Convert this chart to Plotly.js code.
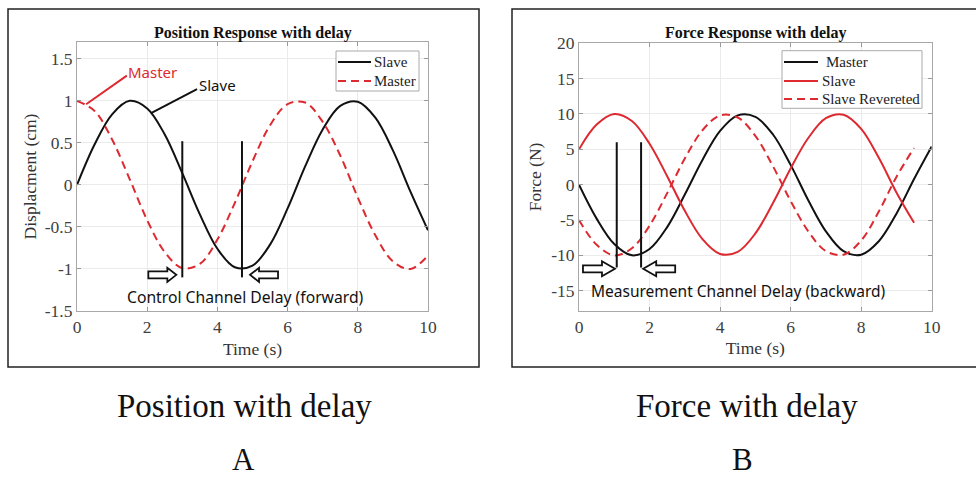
<!DOCTYPE html>
<html>
<head>
<meta charset="utf-8">
<script src="https://cdn.plot.ly/plotly-3.0.1.min.js"></script>
<style>html,body{margin:0;padding:0;background:#fff;}#chart{width:976px;height:478px;}</style>
</head>
<body>
<div id="chart"></div>
<script>
// ---- data ----
const time = [0,0.5,1,1.5,2,2.5,3,3.5,4,4.5,5,5.5,6,6.5,7,7.5,8,8.5,9,9.5,10];
const posSlave  = [0,0.48,0.84,1.00,0.91,0.60,0.14,-0.35,-0.76,-0.98,-0.96,-0.71,-0.28,0.22,0.66,0.94,0.99,0.80,0.41,-0.08,-0.54];
const posMaster = [1.00,0.88,0.54,0.07,-0.42,-0.80,-0.99,-0.94,-0.65,-0.21,0.28,0.71,0.96,0.98,0.75,0.35,-0.15,-0.60,-0.91,-1.00,-0.84];
const timeShort = [0,0.5,1,1.5,2,2.5,3,3.5,4,4.5,5,5.5,6,6.5,7,7.5,8,8.5,9,9.5];
const forceMaster = [0,-4.8,-8.4,-10.0,-9.1,-6.0,-1.4,3.5,7.6,9.8,9.6,7.1,2.8,-2.2,-6.6,-9.4,-9.9,-8.0,-4.1,0.8,5.4];
const forceSlave  = [5.0,8.5,10.0,9.0,5.8,1.2,-3.7,-7.7,-9.8,-9.5,-6.9,-2.6,2.3,6.6,9.4,9.9,7.9,3.8,-1.1,-5.4];
const forceSlaveRev = [-5.0,-8.5,-10.0,-9.0,-5.8,-1.2,3.7,7.7,9.8,9.5,6.9,2.6,-2.3,-6.6,-9.4,-9.9,-7.9,-3.8,1.1,5.2];
const xTicks = [0,2,4,6,8,10];
const xTickText = ['0','2','4','6','8','10'];
const posTicks = [-1.5,-1,-0.5,0,0.5,1,1.5];
const posTickText = ['-1.5','-1','-0.5','0','0.5','1','1.5'];
const forceTicks = [-15,-10,-5,0,5,10,15,20];
const forceTickText = ['-15','-10','-5','0','5','10','15','20'];
const delayPos = [3.0, 4.7];      // vertical delay markers (s), position plot
const delayForce = [1.07, 1.76];  // vertical delay markers (s), force plot
const posLegendNames = ['Slave', 'Master'];
const forceLegendNames = ['Master', 'Slave', 'Slave Revereted'];

// ---- styles ----
const RED = '#dd2a30';
const BLACK = '#111';
const SERIF = "'Liberation Serif', 'Times New Roman', serif";
const SANS = "'Noto Sans', 'Open Sans', sans-serif";
const W = 976, H = 478;
const px = v => v / W, py = v => 1 - v / H;

const posStyles = [{color: BLACK, width: 2}, {color: RED, width: 2, dash: '8px,5px'}];
const forceStyles = [{color: BLACK, width: 2}, {color: RED, width: 2}, {color: RED, width: 2, dash: '8px,5px'}];

const traces = [
  {x: time, y: posSlave, name: posLegendNames[0], mode: 'lines', line: Object.assign({shape: 'spline'}, posStyles[0]), xaxis: 'x', yaxis: 'y'},
  {x: time, y: posMaster, name: posLegendNames[1], mode: 'lines', line: Object.assign({shape: 'spline'}, posStyles[1]), xaxis: 'x', yaxis: 'y'},
  {x: time, y: forceMaster, name: forceLegendNames[0], mode: 'lines', line: Object.assign({shape: 'spline'}, forceStyles[0]), xaxis: 'x2', yaxis: 'y2'},
  {x: timeShort, y: forceSlave, name: forceLegendNames[1], mode: 'lines', line: Object.assign({shape: 'spline'}, forceStyles[1]), xaxis: 'x2', yaxis: 'y2'},
  {x: timeShort, y: forceSlaveRev, name: forceLegendNames[2], mode: 'lines', line: Object.assign({shape: 'spline'}, forceStyles[2]), xaxis: 'x2', yaxis: 'y2'}
];

function axisBase(extra) {
  return Object.assign({
    ticks: 'inside', ticklen: 4, tickcolor: '#999', tickwidth: 1,
    showline: true, linecolor: '#a8a8a8', linewidth: 1, mirror: 'ticks',
    showgrid: true, gridcolor: '#ebebeb', gridwidth: 1, zeroline: false,
    tickfont: {family: SERIF, size: 17.5, color: '#404040'},
    fixedrange: true
  }, extra);
}

const shapes = [
  // panel frames
  {type: 'rect', xref: 'paper', yref: 'paper', x0: px(8), x1: px(479), y0: py(367), y1: py(9), line: {color: '#222', width: 1.5}},
  {type: 'rect', xref: 'paper', yref: 'paper', x0: px(512), x1: px(980), y0: py(367), y1: py(9), line: {color: '#222', width: 1.5}},
  // leader lines for labels (position plot)
  {type: 'line', xref: 'x', yref: 'y', x0: 0.26, y0: 0.96, x1: 1.42, y1: 1.30, line: {color: RED, width: 2}},
  {type: 'line', xref: 'x', yref: 'y', x0: 2.11, y0: 0.855, x1: 3.42, y1: 1.14, line: {color: BLACK, width: 2}},
  // delay markers
  {type: 'line', xref: 'x', yref: 'y', x0: delayPos[0], x1: delayPos[0], y0: 0.52, y1: -1.10, line: {color: BLACK, width: 2}},
  {type: 'line', xref: 'x', yref: 'y', x0: delayPos[1], x1: delayPos[1], y0: 0.52, y1: -1.10, line: {color: BLACK, width: 2}},
  {type: 'line', xref: 'x2', yref: 'y2', x0: delayForce[0], x1: delayForce[0], y0: 6, y1: -11.7, line: {color: BLACK, width: 2}},
  {type: 'line', xref: 'x2', yref: 'y2', x0: delayForce[1], x1: delayForce[1], y0: 6, y1: -11.7, line: {color: BLACK, width: 2}},
  // hollow arrows
  {type: 'path', xref: 'x', yref: 'y', xsizemode: 'pixel', ysizemode: 'pixel', xanchor: 2.83, yanchor: -1.07,
    path: 'M-28,-3.5 L-9,-3.5 L-9,-7 L0,0 L-9,7 L-9,3.5 L-28,3.5 Z', fillcolor: '#fff', line: {color: BLACK, width: 1.8}},
  {type: 'path', xref: 'x', yref: 'y', xsizemode: 'pixel', ysizemode: 'pixel', xanchor: 4.93, yanchor: -1.07,
    path: 'M28,-3.5 L9,-3.5 L9,-7 L0,0 L9,7 L9,3.5 L28,3.5 Z', fillcolor: '#fff', line: {color: BLACK, width: 1.8}},
  {type: 'path', xref: 'x2', yref: 'y2', xsizemode: 'pixel', ysizemode: 'pixel', xanchor: 1.02, yanchor: -11.9,
    path: 'M-32,-3.5 L-13,-3.5 L-13,-7.5 L0,0 L-13,7.5 L-13,3.5 L-32,3.5 Z', fillcolor: '#fff', line: {color: BLACK, width: 1.8}},
  {type: 'path', xref: 'x2', yref: 'y2', xsizemode: 'pixel', ysizemode: 'pixel', xanchor: 1.82, yanchor: -11.9,
    path: 'M32,-3.5 L13,-3.5 L13,-7.5 L0,0 L13,7.5 L13,3.5 L32,3.5 Z', fillcolor: '#fff', line: {color: BLACK, width: 1.8}},
  // legend boxes
  {type: 'rect', xref: 'paper', yref: 'paper', x0: px(336), x1: px(419), y0: py(91), y1: py(51), fillcolor: '#fff', line: {color: '#aaa', width: 1}},
  {type: 'rect', xref: 'paper', yref: 'paper', x0: px(782), x1: px(922), y0: py(108.3), y1: py(50.7), fillcolor: '#fff', line: {color: '#aaa', width: 1}}
];

const annotations = [
  {xref: 'paper', yref: 'paper', x: px(252.5), y: py(33), text: '<b>Position Response with delay</b>', showarrow: false,
    font: {family: SERIF, size: 16, color: BLACK}, xanchor: 'center', yanchor: 'middle'},
  {xref: 'paper', yref: 'paper', x: px(755.5), y: py(33), text: '<b>Force Response with delay</b>', showarrow: false,
    font: {family: SERIF, size: 16, color: BLACK}, xanchor: 'center', yanchor: 'middle'},
  {xref: 'x', yref: 'y', x: 2.14, y: 1.34, text: 'Master', showarrow: false, font: {family: SANS, size: 15, color: RED}},
  {xref: 'x', yref: 'y', x: 4.0, y: 1.19, text: 'Slave', showarrow: false, font: {family: SANS, size: 15, color: BLACK}},
  {xref: 'x', yref: 'y', x: 4.79, y: -1.33, text: 'Control Channel Delay (forward)', showarrow: false, font: {family: SANS, size: 15.7, color: BLACK}},
  {xref: 'x2', yref: 'y2', x: 4.51, y: -15.1, text: 'Measurement Channel Delay (backward)', showarrow: false, font: {family: SANS, size: 15.5, color: BLACK}},
  {xref: 'paper', yref: 'paper', x: px(244), y: py(406), text: 'Position with delay', showarrow: false,
    font: {family: SERIF, size: 33, color: BLACK}, xanchor: 'center', yanchor: 'middle'},
  {xref: 'paper', yref: 'paper', x: px(243), y: py(459), text: 'A', showarrow: false,
    font: {family: SERIF, size: 31, color: BLACK}, xanchor: 'center', yanchor: 'middle'},
  {xref: 'paper', yref: 'paper', x: px(746.5), y: py(406), text: 'Force with delay', showarrow: false,
    font: {family: SERIF, size: 33, color: BLACK}, xanchor: 'center', yanchor: 'middle'},
  {xref: 'paper', yref: 'paper', x: px(742), y: py(459), text: 'B', showarrow: false,
    font: {family: SERIF, size: 31, color: BLACK}, xanchor: 'center', yanchor: 'middle'}
];

// legend entries (drawn manually to match the compact MATLAB legend boxes)
const posRows = [62, 81];
posLegendNames.forEach((n, i) => {
  shapes.push({type: 'line', xref: 'paper', yref: 'paper', x0: px(338), x1: px(371), y0: py(posRows[i]), y1: py(posRows[i]), line: posStyles[i]});
  annotations.push({xref: 'paper', yref: 'paper', x: px(372), y: py(posRows[i]), text: n, showarrow: false, xanchor: 'left', yanchor: 'middle',
    font: {family: SERIF, size: 15, color: '#222'}});
});
const forceRows = [62, 81, 99];
const forceTextX = [824, 820, 820];
forceLegendNames.forEach((n, i) => {
  shapes.push({type: 'line', xref: 'paper', yref: 'paper', x0: px(784), x1: px(818), y0: py(forceRows[i]), y1: py(forceRows[i]), line: forceStyles[i]});
  annotations.push({xref: 'paper', yref: 'paper', x: px(forceTextX[i]), y: py(forceRows[i]), text: n, showarrow: false, xanchor: 'left', yanchor: 'middle',
    font: {family: SERIF, size: 15, color: '#222'}});
});

const titleFont = {family: SERIF, size: 17.5, color: '#333'};
const layout = {
  width: W, height: H,
  margin: {l: 0, r: 0, t: 0, b: 0},
  paper_bgcolor: '#fff', plot_bgcolor: '#fff',
  showlegend: false,
  xaxis: axisBase({domain: [px(77), px(428)], anchor: 'y', range: [0, 10], tickvals: xTicks, ticktext: xTickText,
    title: {text: 'Time (s)', font: titleFont, standoff: 6}}),
  yaxis: axisBase({domain: [py(311), py(42)], anchor: 'x', range: [-1.5, 1.7], tickvals: posTicks, ticktext: posTickText,
    title: {text: 'Displacment (cm)', font: titleFont, standoff: 3}}),
  xaxis2: axisBase({domain: [px(579), px(931.7)], anchor: 'y2', range: [0, 10], tickvals: xTicks, ticktext: xTickText,
    title: {text: 'Time (s)', font: titleFont, standoff: 6}}),
  yaxis2: axisBase({domain: [py(310.5), py(43.3)], anchor: 'x2', range: [-17.8, 20], tickvals: forceTicks, ticktext: forceTickText,
    title: {text: 'Force (N)', font: titleFont, standoff: 5}}),
  shapes: shapes,
  annotations: annotations
};

Plotly.newPlot('chart', traces, layout, {displayModeBar: false, staticPlot: true});
</script>
</body>
</html>
